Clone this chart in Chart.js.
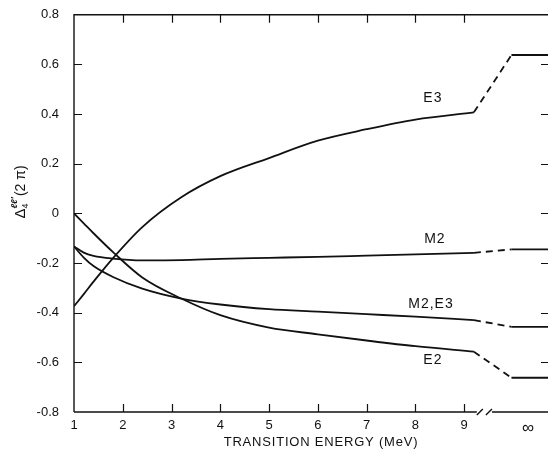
<!DOCTYPE html>
<html><head><meta charset="utf-8">
<script src="https://cdn.jsdelivr.net/npm/chart.js@4/dist/chart.umd.min.js"></script>
<style>html,body{margin:0;padding:0;background:#fff;overflow:hidden}#wrap{width:552px;height:453px;position:relative}</style>
</head><body><div id="wrap"><canvas id="c"></canvas></div>
<script>
// ---- data ----
const energy = [1, 1.2, 1.4, 1.8, 2.4, 3.2, 4, 5, 6, 7, 8, 9.2];
const E3   = [-0.374, -0.325, -0.275, -0.180, -0.055, 0.065, 0.150, 0.223, 0.293, 0.339, 0.378, 0.407];
const M2   = [-0.133, -0.158, -0.171, -0.182, -0.189, -0.188, -0.183, -0.179, -0.175, -0.170, -0.165, -0.159];
const M2E3 = [-0.133, -0.178, -0.212, -0.256, -0.303, -0.343, -0.367, -0.386, -0.396, -0.406, -0.416, -0.430];
const E2   = [0.000, -0.040, -0.080, -0.156, -0.258, -0.343, -0.410, -0.460, -0.487, -0.512, -0.535, -0.557];
// limiting values at infinite energy
const infValues = {E3: 0.638, M2: -0.145, M2E3: -0.457, E2: -0.662};
const breakEnergy = [9.2, 9.97];    // dashed join
const infEnergy = [9.97, 10.74];    // flat part at "infinity"
const xTickValues = [1, 2, 3, 4, 5, 6, 7, 8, 9, 10.31];
const xTickLabels = ['1', '2', '3', '4', '5', '6', '7', '8', '9', '\u221E'];
const yTickValues = [-0.8, -0.6, -0.4, -0.2, 0, 0.2, 0.4, 0.6, 0.8];
const yTickLabels = ['-0.8', '-0.6', '-0.4', '-0.2', '0', '0.2', '0.4', '0.6', '0.8'];
const curveNames = ['E3', 'M2', 'M2,E3', 'E2'];
const curveLabelX = [8.36, 8.40, 8.32, 8.36];
const curveLabelY = [0.466, -0.105, -0.366, -0.591];

const INK = '#111';
const series = [['E3', E3], ['M2', M2], ['M2E3', M2E3], ['E2', E2]];
const datasets = [];
series.forEach(([k, arr]) => {
  datasets.push({data: energy.map((x, i) => ({x, y: arr[i]})), borderColor: INK, borderWidth: 1.8,
    pointRadius: 0, cubicInterpolationMode: 'monotone', fill: false});
  datasets.push({data: [{x: breakEnergy[0], y: arr[arr.length - 1]}, {x: breakEnergy[1], y: infValues[k]}],
    borderColor: INK, borderWidth: 1.8, borderDash: [7, 5], pointRadius: 0, fill: false});
  datasets.push({data: [{x: infEnergy[0], y: infValues[k]}, {x: infEnergy[1], y: infValues[k]}],
    borderColor: INK, borderWidth: 1.8, pointRadius: 0, fill: false});
});

const FONT = '"Liberation Sans", Arial, sans-serif';

const decor = {
  id: 'decor',
  afterDraw(chart) {
    const {ctx, chartArea: a, scales: {x, y}} = chart;
    ctx.save();
    ctx.strokeStyle = INK; ctx.fillStyle = INK; ctx.lineWidth = 1.4;
    // frame: left, top, right
    ctx.beginPath();
    ctx.moveTo(a.left, a.bottom); ctx.lineTo(a.left, a.top); ctx.lineTo(a.right, a.top); ctx.lineTo(a.right, a.bottom);
    ctx.stroke();
    // bottom axis with break
    const b1 = x.getPixelForValue(9.26), b2 = x.getPixelForValue(9.57);
    ctx.beginPath();
    ctx.moveTo(a.left, a.bottom); ctx.lineTo(b1, a.bottom);
    ctx.moveTo(b2, a.bottom); ctx.lineTo(a.right, a.bottom);
    ctx.moveTo(b1, a.bottom + 3); ctx.lineTo(b1 + 6, a.bottom - 3);
    ctx.moveTo(b2 - 6, a.bottom + 3); ctx.lineTo(b2, a.bottom - 3);
    ctx.stroke();
    // ticks
    ctx.lineWidth = 1.2;
    ctx.beginPath();
    xTickValues.forEach(v => {
      if (v <= 1 || v > 9.5) return;
      const px = Math.round(x.getPixelForValue(v)) + 0.5;
      ctx.moveTo(px, a.bottom); ctx.lineTo(px, a.bottom - 8);
      ctx.moveTo(px, a.top); ctx.lineTo(px, a.top + 8);
    });
    yTickValues.forEach(v => {
      if (Math.abs(v) > 0.7) return;
      const py = Math.round(y.getPixelForValue(v)) + 0.5;
      ctx.moveTo(a.left, py); ctx.lineTo(a.left + 8, py);
      ctx.moveTo(a.right, py); ctx.lineTo(a.right - 8, py);
    });
    ctx.stroke();
    // curve labels
    ctx.font = '14px ' + FONT; ctx.textAlign = 'center'; ctx.textBaseline = 'middle';
    ctx.letterSpacing = '1px';
    curveNames.forEach((n, i) => ctx.fillText(n, x.getPixelForValue(curveLabelX[i]), y.getPixelForValue(curveLabelY[i])));
    // x title
    ctx.font = '13px ' + FONT; ctx.letterSpacing = '0.8px';
    ctx.fillText('TRANSITION ENERGY (MeV)', 321, 442);
    ctx.letterSpacing = '0px';
    // y title (rotated)
    ctx.translate(20, 192); ctx.rotate(-Math.PI / 2);
    ctx.textAlign = 'left'; ctx.textBaseline = 'alphabetic';
    ctx.font = '15px ' + FONT; const wD = ctx.measureText('\u0394').width;
    ctx.font = '9px ' + FONT; const w4 = ctx.measureText('4').width;
    ctx.font = 'italic bold 9px ' + FONT; const wl = ctx.measureText("\u2113\u2113'").width;
    ctx.font = '14px ' + FONT; const wP = ctx.measureText('(2 \u03C0)').width;
    const total = wD + Math.max(w4, wl) + 1 + wP;
    let cx = -total / 2;
    ctx.font = '15px ' + FONT; ctx.fillText('\u0394', cx, 5); cx += wD;
    ctx.font = '9px ' + FONT; ctx.fillText('4', cx, 8);
    ctx.font = 'italic bold 9px ' + FONT; ctx.fillText("\u2113\u2113'", cx, -3);
    cx += Math.max(w4, wl) + 1;
    ctx.font = '14px ' + FONT; ctx.fillText('(2 \u03C0)', cx, 5);
    ctx.restore();
  }
};

new Chart(document.getElementById('c'), {
  type: 'line',
  data: {datasets},
  options: {
    responsive: true, maintainAspectRatio: false, animation: false,
    layout: {padding: {left: 0, top: 14, right: 3, bottom: 0}},
    plugins: {legend: {display: false}, tooltip: {enabled: false}},
    scales: {
      x: {
        type: 'linear', min: 1, max: 10.74,
        grid: {display: false}, border: {display: false},
        afterBuildTicks: s => { s.ticks = xTickValues.map(v => ({value: v})); },
        afterFit: s => { s.height = 41; },
        ticks: {color: INK, padding: -2, maxRotation: 0, autoSkip: false,
          font: ctx => ({family: FONT, size: ctx.tick && ctx.tick.value > 9.5 ? 17 : 13}),
          callback: v => xTickLabels[xTickValues.indexOf(v)]}
      },
      y: {
        min: -0.8, max: 0.8,
        grid: {display: false}, border: {display: false},
        afterBuildTicks: s => { s.ticks = yTickValues.map(v => ({value: v})); },
        afterFit: s => { s.width = 74; },
        ticks: {color: INK, padding: 7, font: {family: FONT, size: 13},
          callback: v => yTickLabels[yTickValues.findIndex(t => Math.abs(t - v) < 1e-6)]}
      }
    }
  },
  plugins: [decor]
});
</script></body></html>
